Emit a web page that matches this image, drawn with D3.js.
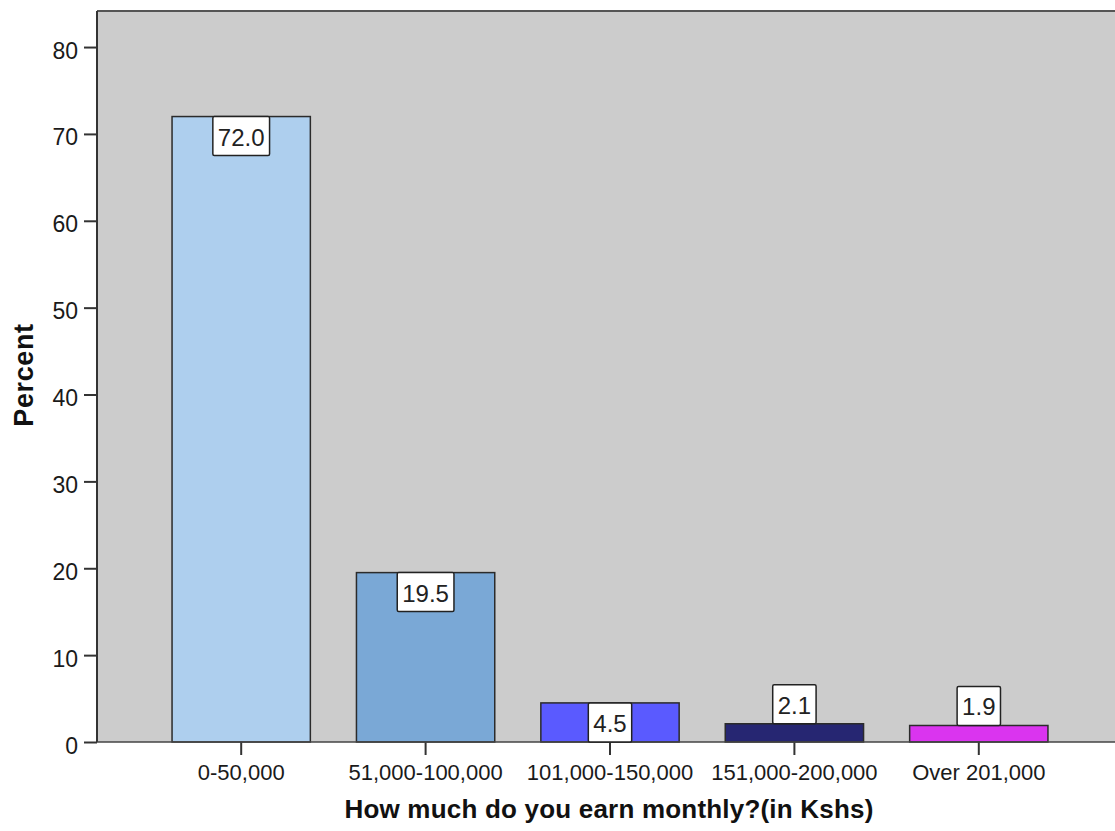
<!DOCTYPE html>
<html>
<head>
<meta charset="utf-8">
<script src="https://cdn.jsdelivr.net/npm/d3@7/dist/d3.min.js"></script>
<style>
  html, body { margin: 0; padding: 0; background: #ffffff; }
  svg { display: block; font-family: "Liberation Sans", Arial, sans-serif; }
</style>
</head>
<body>
<svg id="chart" width="1115" height="831"></svg>
<script>
// Monthly earnings distribution (percent of respondents)
const categories = ["0-50,000", "51,000-100,000", "101,000-150,000", "151,000-200,000", "Over 201,000"];
const percents = [72.0, 19.5, 4.5, 2.1, 1.9];
const barColors = ["#aecfee", "#7aa8d6", "#5a5aff", "#262672", "#da34ef"];
const yTicks = [0, 10, 20, 30, 40, 50, 60, 70, 80];
const xTitle = "How much do you earn monthly?(in Kshs)";
const yTitle = "Percent";

const svg = d3.select("#chart");
const plot = { left: 97, top: 11, right: 1115, bottom: 742 };

const x = d3.scaleBand()
  .domain(categories)
  .range([149, 1071])
  .paddingInner(0.25)
  .paddingOuter(0.125);

const y = d3.scaleLinear()
  .domain([0, 84.15])
  .range([plot.bottom, plot.top]);

// plot background
svg.append("rect")
  .attr("x", plot.left).attr("y", plot.top)
  .attr("width", plot.right - plot.left).attr("height", plot.bottom - plot.top)
  .attr("fill", "#cccccc");

// top frame line
svg.append("line")
  .attr("x1", plot.left).attr("x2", plot.right)
  .attr("y1", plot.top).attr("y2", plot.top)
  .attr("stroke", "#555555").attr("stroke-width", 2);

// bars
svg.append("g").selectAll("rect")
  .data(percents)
  .join("rect")
  .attr("x", (d, i) => x(categories[i]))
  .attr("y", d => y(d))
  .attr("width", x.bandwidth())
  .attr("height", d => y(0) - y(d))
  .attr("fill", (d, i) => barColors[i])
  .attr("stroke", "#2b2b2b")
  .attr("stroke-width", 1.5);

// y axis
const yAxis = svg.append("g")
  .attr("transform", `translate(${plot.left},0)`)
  .call(d3.axisLeft(y).tickValues(yTicks).tickSize(13).tickPadding(6).tickSizeOuter(0));
yAxis.select(".domain").remove();
yAxis.append("line")
  .attr("x1", 0).attr("x2", 0)
  .attr("y1", plot.top).attr("y2", plot.bottom)
  .attr("stroke", "#333333").attr("stroke-width", 2);
yAxis.selectAll(".tick line").attr("stroke", "#333333").attr("stroke-width", 2);
yAxis.selectAll(".tick text")
  .attr("fill", "#1a1a1a")
  .attr("dy", "0.48em")
  .style("font-size", "23px");

// x axis
const xAxis = svg.append("g")
  .attr("transform", `translate(0,${plot.bottom})`)
  .call(d3.axisBottom(x).tickSize(13).tickPadding(9).tickSizeOuter(0));
xAxis.select(".domain").remove();
xAxis.append("line")
  .attr("x1", plot.left).attr("x2", plot.right)
  .attr("y1", 0).attr("y2", 0)
  .attr("stroke", "#444444").attr("stroke-width", 1.5);
xAxis.selectAll(".tick line").attr("stroke", "#333333").attr("stroke-width", 2);
xAxis.selectAll(".tick text")
  .attr("fill", "#1a1a1a")
  .style("font-size", "22px");

// value labels
const boxH = 39, padX = 5, fontPx = 24;
const labels = svg.append("g").selectAll("g")
  .data(percents)
  .join("g");
labels.each(function (d, i) {
  const g = d3.select(this);
  const cx = x(categories[i]) + x.bandwidth() / 2;
  const barH = y(0) - y(d);
  const top = barH >= boxH - 1 ? y(d) : y(d) - boxH;
  const t = g.append("text")
    .attr("x", cx)
    .attr("y", top + 29)
    .attr("text-anchor", "middle")
    .attr("fill", "#222222")
    .style("font-size", fontPx + "px")
    .text(d.toFixed(1));
  const w = t.node().getComputedTextLength() + padX * 2;
  g.insert("rect", "text")
    .attr("x", cx - w / 2)
    .attr("y", top)
    .attr("width", w)
    .attr("height", boxH)
    .attr("rx", 1.5)
    .attr("fill", "#ffffff")
    .attr("stroke", "#222222")
    .attr("stroke-width", 1.5);
});

// axis titles
svg.append("text")
  .attr("x", 609)
  .attr("y", 818)
  .attr("text-anchor", "middle")
  .attr("fill", "#111111")
  .style("font-size", "26px")
  .style("font-weight", "bold")
  .style("letter-spacing", "0.2px")
  .text(xTitle);

svg.append("text")
  .attr("transform", "translate(33,375) rotate(-90)")
  .attr("text-anchor", "middle")
  .attr("fill", "#111111")
  .style("font-size", "27px")
  .style("font-weight", "bold")
  .style("letter-spacing", "0.6px")
  .text(yTitle);
</script>
</body>
</html>
